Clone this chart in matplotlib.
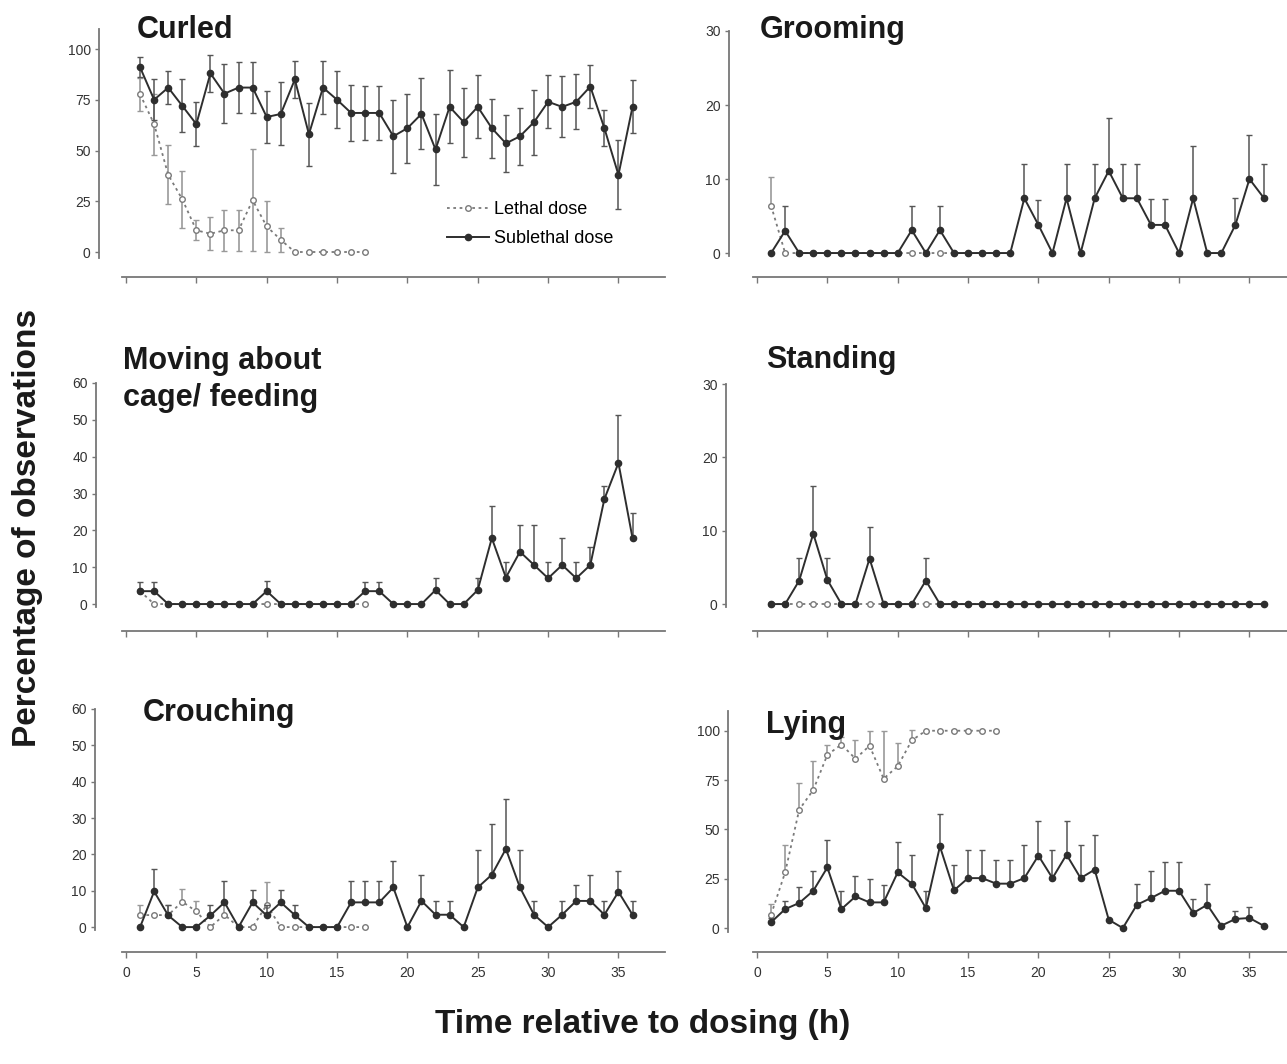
import matplotlib
matplotlib.use('Agg')
import matplotlib.pyplot as plt

plt.rcParams['font.family'] = ['Liberation Sans', 'DejaVu Sans']

W, H = 1287, 1064

# hours after dosing
hours_sub = list(range(1, 37))
hours_leth = list(range(1, 18))

# Curled
curled_sub = [91, 75, 81, 72, 63, 88, 78, 81, 81, 66.5, 68, 85, 58, 81, 75, 68.5, 68.5, 68.5,
              57, 61, 68, 50.5, 71.5, 64, 71.5, 61, 53.5, 57, 64, 74, 71.5, 74, 81.5, 61, 38, 71.5]
curled_sub_err = [5, 10, 8, 13, 11, 9, 14.5, 12.5, 12.5, 13, 15.5, 9, 15.5, 13, 14, 14, 13.5, 13.5,
                  18, 17, 17.5, 17.5, 18, 17, 15.5, 14.5, 14, 14, 16, 13, 15, 13.5, 10.5, 9, 17, 13]
curled_leth = [77.7, 63, 38, 26, 10.7, 9, 10.7, 10.7, 25.5, 12.6, 6, 0, 0, 0, 0, 0, 0]
curled_leth_err = [8, 15, 14.5, 14, 5, 8, 10, 10, 25, 12.6, 6, 0, 0, 0, 0, 0, 0]

# Grooming
grooming_sub = [0, 3.0, 0, 0, 0, 0, 0, 0, 0, 0, 3.1, 0, 3.1, 0, 0, 0, 0, 0,
                7.4, 3.8, 0, 7.4, 0, 7.4, 11.1, 7.4, 7.4, 3.8, 3.8, 0, 7.4, 0, 0, 3.8, 10, 7.5]
grooming_sub_err = [0, 3.3, 0, 0, 0, 0, 0, 0, 0, 0, 3.2, 0, 3.2, 0, 0, 0, 0, 0,
                    4.6, 3.4, 0, 4.6, 0, 4.6, 7.2, 4.6, 4.6, 3.5, 3.5, 0, 7.1, 0, 0, 3.6, 5.9, 4.5]
grooming_leth = [6.4, 0, 0, 0, 0, 0, 0, 0, 0, 0, 0, 0, 0, 0, 0, 0, 0]
grooming_leth_err = [3.9, 0, 0, 0, 0, 0, 0, 0, 0, 0, 0, 0, 0, 0, 0, 0, 0]

# Moving about cage / feeding
moving_sub = [3.5, 3.5, 0, 0, 0, 0, 0, 0, 0, 3.5, 0, 0, 0, 0, 0, 0, 3.5, 3.5,
              0, 0, 0, 3.8, 0, 0, 3.8, 17.9, 7.2, 14.2, 10.6, 7, 10.6, 7, 10.6, 28.5, 38.3, 17.9]
moving_sub_err = [2.6, 2.6, 0, 0, 0, 0, 0, 0, 0, 2.7, 0, 0, 0, 0, 0, 0, 2.6, 2.6,
                  0, 0, 0, 3.2, 0, 0, 3.2, 8.8, 4.3, 7.3, 10.9, 4.5, 7.4, 4.5, 4.8, 3.5, 13.1, 6.9]
moving_leth = [3.5, 0, 0, 0, 0, 0, 0, 0, 0, 0, 0, 0, 0, 0, 0, 0, 0]
moving_leth_err = [0, 0, 0, 0, 0, 0, 0, 0, 0, 0, 0, 0, 0, 0, 0, 0, 0]

# Standing
standing_sub = [0, 0, 3.2, 9.6, 3.3, 0, 0, 6.2, 0, 0, 0, 3.2, 0, 0, 0, 0, 0, 0,
                0, 0, 0, 0, 0, 0, 0, 0, 0, 0, 0, 0, 0, 0, 0, 0, 0, 0]
standing_sub_err = [0, 0, 3.1, 6.5, 3.0, 0, 0, 4.3, 0, 0, 0, 3.1, 0, 0, 0, 0, 0, 0,
                    0, 0, 0, 0, 0, 0, 0, 0, 0, 0, 0, 0, 0, 0, 0, 0, 0, 0]
standing_leth = [0, 0, 0, 0, 0, 0, 0, 0, 0, 0, 0, 0, 0, 0, 0, 0, 0]
standing_leth_err = [0, 0, 0, 0, 0, 0, 0, 0, 0, 0, 0, 0, 0, 0, 0, 0, 0]

# Crouching
crouching_sub = [0, 9.8, 3.2, 0, 0, 3.2, 6.8, 0, 6.8, 3.2, 6.8, 3.3, 0, 0, 0, 6.8, 6.8, 6.8,
                 10.9, 0, 7.2, 3.4, 3.4, 0, 10.9, 14.4, 21.5, 10.9, 3.4, 0, 3.4, 7.2, 7.2, 3.4, 9.7, 3.4]
crouching_sub_err = [0, 6.3, 3, 0, 0, 3, 5.8, 0, 3.5, 3, 3.5, 2.9, 0, 0, 0, 5.8, 5.8, 5.8,
                     7.2, 0, 7.2, 3.7, 3.7, 0, 10.3, 14, 13.8, 10.3, 3.7, 0, 3.7, 4.5, 7, 3.7, 5.7, 3.7]
crouching_leth = [3.3, 3.3, 3.3, 7.0, 4.3, 0, 3.4, 0, 0, 6.1, 0, 0, 0, 0, 0, 0, 0]
crouching_leth_err = [2.8, 0, 2.8, 3.5, 2.9, 0, 3, 0, 0, 6.4, 0, 0, 0, 0, 0, 0, 0]

# Lying
lying_sub = [2.9, 9.6, 12.7, 18.9, 30.7, 9.6, 16, 13, 13, 28.2, 22.5, 10.1, 41.4, 19.1, 25.3, 25.3, 22.5, 22.5,
             25.3, 36.7, 25.3, 37.2, 25.3, 29.6, 4.2, 0, 11.8, 15.2, 18.9, 18.9, 7.6, 11.8, 1.2, 4.6, 5.1, 1.2]
lying_sub_err = [2.2, 3.9, 8.3, 9.8, 13.7, 9.3, 10.2, 12, 9, 15.2, 14.3, 8.5, 16.4, 12.9, 14.1, 14.1, 12.1, 12.1,
                 16.9, 17.3, 14.1, 16.8, 16.9, 17.7, 0, 0, 10.5, 13.8, 14.4, 14.4, 7.1, 10.7, 0, 3.8, 5.4, 0]
lying_leth = [6.8, 28.2, 60, 70, 87.8, 93, 85.8, 92.4, 75.7, 82, 95.1, 100, 100, 100, 100, 100, 100]
lying_leth_err = [5.5, 14, 13.5, 14.8, 5.2, 4, 9.6, 7.6, 24.3, 11.8, 5.4, 0, 0, 0, 0, 0, 0]

xticks = [0, 5, 10, 15, 20, 25, 30, 35]

SUB_C = '#2e2e2e'
LETH_C = '#7a7a7a'
AX_C = '#777777'

fig = plt.figure(figsize=(W / 100, H / 100), dpi=100)


def make_ax(x0, top, bottom, ylim, yticks, xaxis_y, spine_x, labels):
    # x0 = pixel of hour 0, 14.07 px per hour
    xlim = (-0.3, 38.3)
    px_h = 14.07
    left = x0 + xlim[0] * px_h
    right = x0 + xlim[1] * px_h
    ax = fig.add_axes([left / W, 1 - bottom / H, (right - left) / W, (bottom - top) / H])
    ax.set_xlim(*xlim)
    ax.set_ylim(*ylim)
    for s in ['top', 'right']:
        ax.spines[s].set_visible(False)
    ax.spines['left'].set_position(('outward', (left - spine_x) * 0.72))
    ax.spines['bottom'].set_position(('outward', (xaxis_y - bottom) * 0.72))
    for s in ['left', 'bottom']:
        ax.spines[s].set_color(AX_C)
        ax.spines[s].set_linewidth(1.3)
    ax.set_yticks(yticks)
    ax.set_xticks(xticks)
    ax.tick_params(axis='y', length=3, width=1, color=AX_C, labelsize=10,
                   labelcolor='#333333', pad=3)
    ax.tick_params(axis='x', length=4, width=1, color=AX_C, labelsize=10,
                   labelcolor='#333333', pad=6)
    if not labels:
        ax.set_xticklabels([])
    return ax


def draw(ax, sub, sub_err, leth, leth_err, both_sides=False):
    zs = [0] * len(sub_err)
    zl = [0] * len(leth_err)
    sub_yerr = [sub_err, sub_err] if both_sides else [zs, sub_err]
    leth_yerr = [leth_err, leth_err] if both_sides else [zl, leth_err]
    el = ax.errorbar(hours_leth, leth, yerr=leth_yerr, color=LETH_C, ls=(0, (1.5, 2)), lw=1.3,
                     marker='o', ms=4, mfc='white', mec=LETH_C, mew=1, ecolor='#999999',
                     elinewidth=1.2, capsize=2.5, clip_on=False, zorder=2)
    es = ax.errorbar(hours_sub, sub, yerr=sub_yerr, color=SUB_C, ls='-', lw=1.4,
                     marker='o', ms=4.5, mfc=SUB_C, mec=SUB_C, ecolor='#555555',
                     elinewidth=1.1, capsize=2.5, clip_on=False, zorder=3)
    return el[0], es[0]


# left column: hour 0 at 126 px, right column: hour 0 at 757 px
ax1 = make_ax(126, 28.7, 258.1, (-3, 110), [0, 25, 50, 75, 100], 277, 99, False)
h_leth, h_sub = draw(ax1, curled_sub, curled_sub_err, curled_leth, curled_leth_err, both_sides=True)
ax1.legend([h_leth, h_sub], ['Lethal dose', 'Sublethal dose'],
           loc='upper left', bbox_to_anchor=(440 / W, 1 - 194 / H), bbox_transform=fig.transFigure,
           frameon=False, fontsize=13, handlelength=2.3, handletextpad=0.3, labelspacing=0.65,
           borderaxespad=0)

ax2 = make_ax(757, 31, 256, (-0.4, 30), [0, 10, 20, 30], 277, 729, False)
draw(ax2, grooming_sub, grooming_sub_err, grooming_leth, grooming_leth_err)

ax3 = make_ax(126, 383, 607, (-0.8, 60), [0, 10, 20, 30, 40, 50, 60], 631, 96, False)
draw(ax3, moving_sub, moving_sub_err, moving_leth, moving_leth_err)

ax4 = make_ax(757, 384, 607, (-0.4, 30), [0, 10, 20, 30], 631, 726, False)
draw(ax4, standing_sub, standing_sub_err, standing_leth, standing_leth_err)

ax5 = make_ax(126, 709, 930, (-0.8, 60), [0, 10, 20, 30, 40, 50, 60], 952, 95, True)
draw(ax5, crouching_sub, crouching_sub_err, crouching_leth, crouching_leth_err)

ax6 = make_ax(757, 711, 932, (-2, 110), [0, 25, 50, 75, 100], 952, 728, True)
draw(ax6, lying_sub, lying_sub_err, lying_leth, lying_leth_err)

# panel titles
title_kw = dict(fontsize=22, fontweight='bold', color='#1a1a1a', va='baseline', ha='left')
fig.text(137 / W, 1 - 38 / H, 'Curled', **title_kw)
fig.text(760 / W, 1 - 38 / H, 'Grooming', **title_kw)
fig.text(123 / W, 1 - 369 / H, 'Moving about', **title_kw)
fig.text(123 / W, 1 - 406 / H, 'cage/ feeding', **title_kw)
fig.text(766 / W, 1 - 368 / H, 'Standing', **title_kw)
fig.text(143 / W, 1 - 721 / H, 'Crouching', **title_kw)
fig.text(766 / W, 1 - 733 / H, 'Lying', **title_kw)

fig.text(28 / W, 1 - 528 / H, 'Percentage of observations', rotation=90, fontsize=24,
         fontweight='bold', color='#1a1a1a', ha='center', va='center')
fig.text(643 / W, 1 - 1024 / H, 'Time relative to dosing (h)', fontsize=24,
         fontweight='bold', color='#1a1a1a', ha='center', va='center')

fig.savefig('out.png', dpi=100)
